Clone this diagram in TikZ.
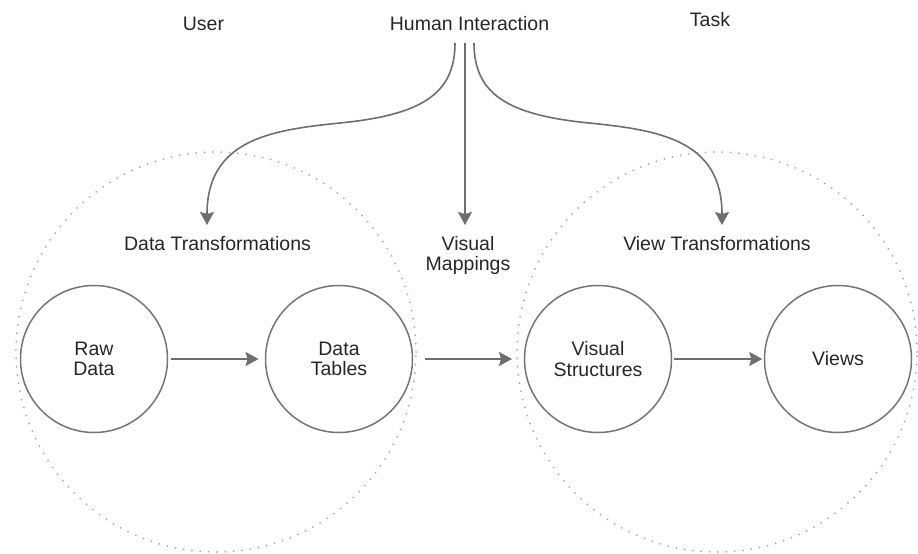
\documentclass[tikz,border=0pt]{standalone}
\usepackage{fontspec}
\setmainfont{Liberation Sans}
\usetikzlibrary{arrows.meta}

\definecolor{ink}{HTML}{262626}
\definecolor{wire}{HTML}{6E6E6E}
\definecolor{ring}{HTML}{747474}
\definecolor{dots}{HTML}{A8A8A8}

\begin{document}
\begin{tikzpicture}[x=1pt,y=-1pt,
  txt/.style={text=ink, font=\fontsize{19.5}{20.7}\selectfont, inner sep=0pt, align=center},
  heading/.style={txt, anchor=base},
  stage/.style={txt, circle, draw=ring, line width=1.5pt, minimum size=147pt},
  zone/.style={circle, draw=dots, line width=2pt, dash pattern=on 0pt off 8.35pt,
    line cap=round, minimum size=400pt, inner sep=0pt},
  flow/.style={draw=wire, line width=1.6pt,
    -{Stealth[length=13pt,width=14pt,inset=2pt]}}
]
\useasboundingbox (0,0) rectangle (918,554);

% dotted regions
\node[zone] (zoneL) at (216,352) {};
\node[zone] (zoneR) at (717,352) {};

% headings
\node[heading] (user) at (203.5,30) {User};
\node[heading] (hi)   at (469.5,30.7) {Human Interaction};
\node[heading] (task) at (710,26.7) {Task};

\node[heading] (dt) at (217.5,250) {Data Transformations};
\node[heading] (vm) at (468,270.7) {Visual\\Mappings};
\node[heading] (vt) at (717,250) {View Transformations};

% pipeline stages
\node[stage] (raw)    at (94,359)  {Raw\\Data};
\node[stage] (tables) at (339,359) {Data\\Tables};
\node[stage] (vs)     at (598,359) {Visual\\Structures};
\node[stage] (views)  at (838,359) {Views};

% interaction lines
\coordinate (hiL) at (455,43);
\coordinate (hiM) at (465,43);
\coordinate (hiR) at (474,43);
\coordinate (dtTip) at (207,225);
\coordinate (vmTip) at (465,225);
\coordinate (vtTip) at (722,225);

\draw[flow] (hiL) .. controls (455,95) and (420,115) .. (340,123)
                  .. controls (270,130) and (207,140) .. (dtTip);
\draw[flow] (hiM) -- (vmTip);
\draw[flow] (hiR) .. controls (474,95) and (509,115) .. (589,123)
                  .. controls (659,130) and (722,140) .. (vtTip);

% pipeline arrows
\draw[flow, shorten <=3.2pt, shorten >=6.2pt] (raw) -- (tables);
\draw[flow, shorten <=8pt, shorten >=4pt] (tables -| zoneL.east) -- (tables -| zoneR.west);
\draw[flow, shorten <=2.2pt, shorten >=1.5pt] (vs) -- (views);
\end{tikzpicture}
\end{document}
